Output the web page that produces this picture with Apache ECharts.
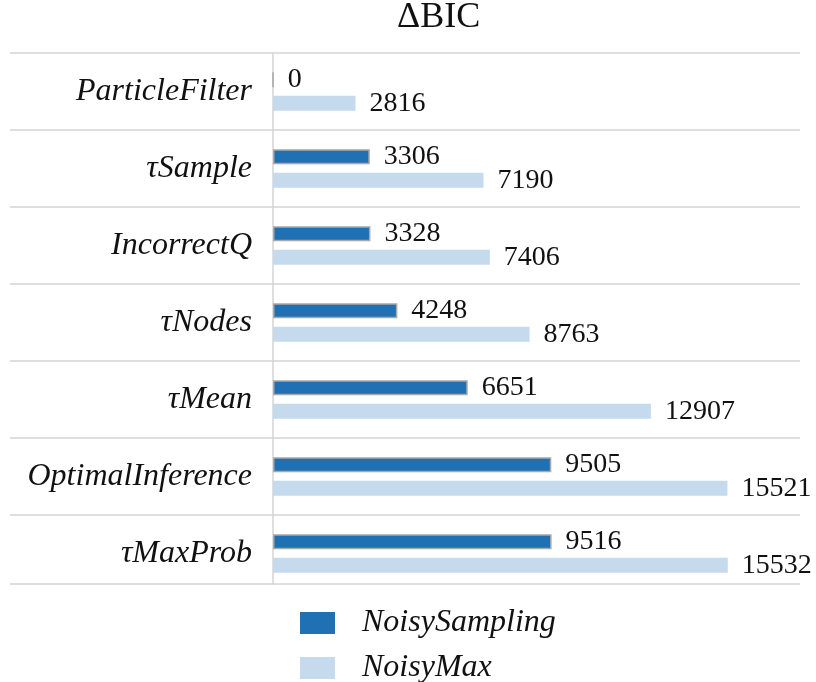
<!DOCTYPE html>
<html>
<head>
<meta charset="utf-8">
<script src="https://cdn.jsdelivr.net/npm/echarts@6/dist/echarts.min.js"></script>
<style>
  html, body { margin: 0; padding: 0; background: #fff; }
  #chart { width: 816px; height: 682px; }
</style>
</head>
<body>
<div id="chart"></div>
<script>
const categories = ["ParticleFilter", "τSample", "IncorrectQ", "τNodes", "τMean", "OptimalInference", "τMaxProb"];
const noisySampling = [0, 3306, 3328, 4248, 6651, 9505, 9516];
const noisyMax = [2816, 7190, 7406, 8763, 12907, 15521, 15532];
const seriesNames = ["NoisySampling", "NoisyMax"];
const titleText = "ΔBIC";

// the table rules stop a little short of the last row
const ruleRows = 531 / 77;

const serif = "'Liberation Serif', 'DejaVu Serif', serif";
const ruleColor = "#d4d4d4";

const chart = echarts.init(document.getElementById("chart"), null, { renderer: "canvas" });

const valueLabel = {
  show: true, position: "right", distance: 14,
  fontFamily: serif, fontSize: 28, color: "#111",
};

chart.setOption({
  animation: false,
  title: {
    text: titleText, left: 397, top: 0, padding: 0,
    textStyle: { fontFamily: serif, fontSize: 36, fontWeight: "normal", color: "#111" },
  },
  legend: {
    orient: "vertical", left: 300, top: 607, height: 120, padding: 0,
    icon: "rect", itemWidth: 35, itemHeight: 22, itemGap: 13,
    itemStyle: { borderWidth: 0 },
    textStyle: {
      fontFamily: serif, fontStyle: "italic", fontSize: 32, color: "#111",
      padding: [0, 0, 0, 22],
    },
    data: seriesNames,
  },
  grid: [
    { left: 273, right: 16, top: 53, height: 539 },
    { left: 273, right: 16, top: 53, height: 531 },
  ],
  xAxis: [
    { type: "value", gridIndex: 0, min: 0, max: 18000, show: false },
    { type: "value", gridIndex: 1, min: 0, max: 1, show: false },
  ],
  yAxis: [
    {
      type: "category", gridIndex: 0, inverse: true, data: categories,
      axisLine: { show: false }, axisTick: { show: false }, splitLine: { show: false },
      axisLabel: {
        margin: 21, fontFamily: serif, fontStyle: "italic", fontSize: 32, color: "#111",
      },
    },
    {
      type: "value", gridIndex: 1, inverse: true, min: 0, max: ruleRows, interval: 1,
      axisLine: { show: true, lineStyle: { color: ruleColor, width: 1.5 } },
      axisTick: { show: true, inside: false, length: 263, lineStyle: { color: ruleColor, width: 1.5 } },
      axisLabel: { show: false },
      splitLine: { show: true, lineStyle: { color: ruleColor, width: 1.5 } },
    },
  ],
  series: [
    {
      name: seriesNames[0], type: "bar", xAxisIndex: 0, yAxisIndex: 0,
      data: noisySampling, barWidth: 15, barGap: "58%",
      itemStyle: { color: "#2070b4", borderColor: "#a8a8a8", borderWidth: 1.5 },
      label: valueLabel,
    },
    {
      name: seriesNames[1], type: "bar", xAxisIndex: 0, yAxisIndex: 0,
      data: noisyMax, barWidth: 15,
      itemStyle: { color: "#c6daee" },
      label: valueLabel,
    },
  ],
});
</script>
</body>
</html>
